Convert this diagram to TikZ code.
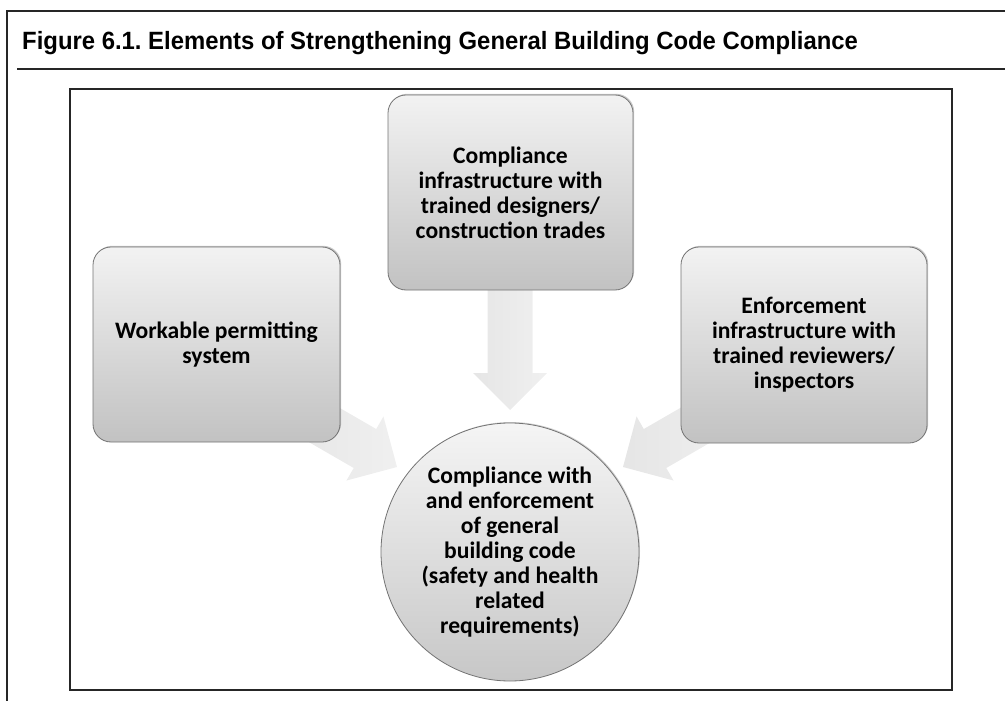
\documentclass[tikz,border=0pt]{standalone}
\usepackage{fontspec}
\setmainfont{Carlito}
\newfontfamily\titlefont[FakeStretch=0.955]{Liberation Sans}
\usetikzlibrary{shadows}
\frenchspacing

\definecolor{framegray}{gray}{0.15}
\definecolor{edgegray}{gray}{0.45}

\tikzset{
  frameline/.style={draw=framegray, line width=1.3pt},
  stagebox/.style={
    rounded corners=18pt, draw=edgegray, line width=0.8pt,
    top color=black!5, bottom color=black!24,
    drop shadow={shadow xshift=1.2pt, shadow yshift=1.2pt, opacity=0.35, fill=black!60},
    align=center, font=\fontsize{23.6}{25}\selectfont\bfseries,
    inner sep=0pt},
  goalcircle/.style={
    circle, draw=edgegray, line width=0.8pt,
    top color=black!4, bottom color=black!22,
    drop shadow={shadow xshift=1pt, shadow yshift=1pt, opacity=0.3, fill=black!60},
    align=center, font=\fontsize{23.6}{25}\selectfont\bfseries,
    minimum size=258pt, inner sep=0pt},
  blockarrow/.pic={
    \shade[left color=black!10, right color=black!6]
      (0,0) -- (-37,37) -- (-37,22.5) -- (-125,22.5) -- (-125,-22.5)
      -- (-37,-22.5) -- (-37,-37) -- cycle;
  }
}

\begin{document}
\begin{tikzpicture}[x=1pt, y=-1pt]
  \useasboundingbox (0,0) rectangle (1005,701);

  % outer frame and title rule
  \coordinate (fbl) at (7,701);
  \coordinate (ftl) at (7,11);
  \coordinate (ftr) at (1005,11);
  \draw[frameline] (fbl) -- (ftl) -- (ftr);
  \coordinate (rl) at (17,69);
  \coordinate (rr) at (1005,69);
  \draw[frameline] (rl) -- (rr);

  \node[anchor=base west, inner sep=0pt, font=\titlefont\bfseries\fontsize{25}{30}\selectfont]
    (title) at (22,50) {Figure 6.1. Elements of Strengthening General Building Code Compliance};

  % chart frame
  \draw[frameline, line width=1.5pt] (70,89) rectangle (952,690);

  % arrows (drawn first so the boxes cover their tails)
  \pic[rotate=-90] at (510,410) {blockarrow};
  \pic[rotate=-30] at (397,467) {blockarrow};
  \pic[rotate=-150] at (623,467) {blockarrow};

  % boxes
  \node[stagebox, minimum width=247pt, minimum height=195pt] (permit) at (216.5,344.5)
    {Workable permitting\\system};
  \node[stagebox, minimum width=245pt, minimum height=195pt] (trades) at (510.5,192.5)
    {Compliance\\infrastructure with\\trained designers/\\construction trades};
  \node[stagebox, minimum width=246pt, minimum height=196pt] (enforce) at (804,345)
    {Enforcement\\infrastructure with\\trained reviewers/\\inspectors};

  % goal
  \node[goalcircle] (goal) at (510,552)
    {Compliance with\\and enforcement\\of general\\building code\\(safety and health\\related\\requirements)};
\end{tikzpicture}
\end{document}
